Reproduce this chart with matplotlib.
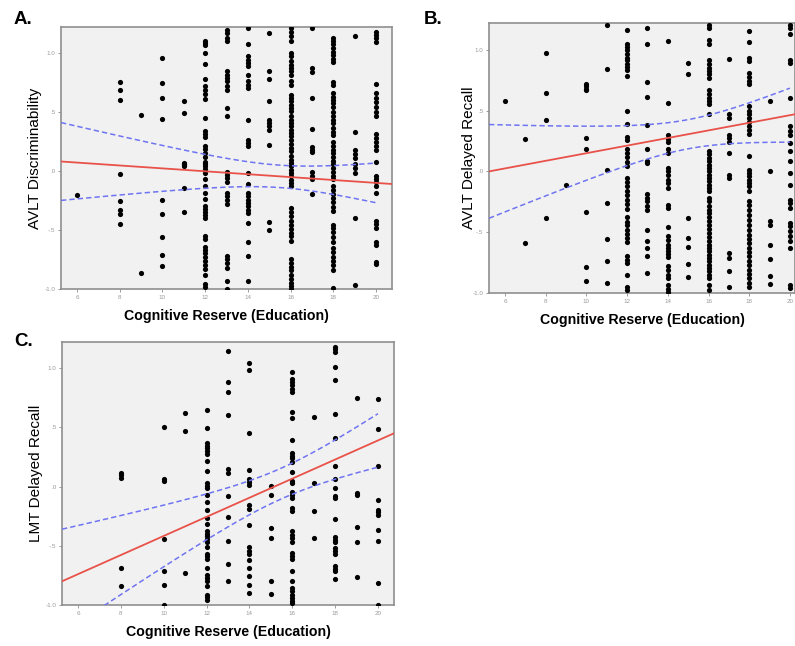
import numpy as np
import matplotlib
matplotlib.use("Agg")
import matplotlib.pyplot as plt

plt.rcParams['font.family'] = ['Liberation Sans', 'DejaVu Sans']

# education years -> standardized scores
disc_a = {
    6: [-0.20],
    8: [0.754, 0.686, 0.60, -0.025, -0.254, -0.328, -0.364, -0.446],
    9: [0.477, -0.862],
    10: [0.96, 0.746, 0.616, 0.44, -0.249, -0.364, -0.556, -0.709, -0.808],
    11: [0.59, 0.49, 0.07, 0.06, 0.05, 0.04, -0.147, -0.35],
    12: [1.10, 1.085, 1.07, 1.0, 0.907, 0.78, 0.723, 0.684, 0.655, 0.61, 0.45,
         0.336, 0.31, 0.29, 0.21, 0.19, 0.15, 0.12, 0.08, 0.06, 0.04, 0.017,
         -0.017, -0.07, -0.13, -0.186, -0.24, -0.30, -0.32, -0.35, -0.37, -0.40,
         -0.55, -0.58, -0.64, -0.667, -0.695, -0.73, -0.766, -0.80, -0.83, -0.88,
         -0.96, -0.98],
    13: [1.198, 1.17, 1.127, 1.099, 0.845, 0.816, 0.788, 0.76, 0.718, 0.689,
         0.534, 0.469, -0.011, -0.031, -0.06, -0.096, -0.186, -0.215, -0.243,
         -0.277, -0.717, -0.746, -0.78, -0.822, -0.93, -1.0],
    14: [1.21, 1.076, 0.972, 0.944, 0.915, 0.887, 0.816, 0.76, 0.73, 0.70, 0.435,
         0.266, 0.237, 0.21, -0.02, -0.107, -0.186, -0.215, -0.243, -0.27, -0.30,
         -0.33, -0.356, -0.44, -0.605, -0.723, -0.935],
    15: [1.17, 0.845, 0.78, 0.59, 0.43, 0.41, 0.38, 0.345, 0.218, -0.43, -0.497],
    16: [1.21, 1.175, 1.147, 1.099, 1.0, 0.972, 0.929, 0.901, 0.873, 0.845, 0.816,
         0.76, 0.732, 0.647, 0.619, 0.59, 0.562, 0.534, 0.506, 0.463, 0.435, 0.407,
         0.379, 0.35, 0.322, 0.294, 0.26, 0.232, 0.195, 0.167, 0.124, 0.096, 0.068,
         0.04, 0.011, -0.017, -0.045, -0.073, -0.102, -0.13, -0.314, -0.35, -0.384,
         -0.427, -0.455, -0.492, -0.525, -0.554, -0.596, -0.746, -0.78, -0.814,
         -0.842, -0.879, -0.915, -0.949, -0.977, -1.0],
    17: [1.215, 0.87, 0.842, 0.62, 0.356, 0.206, 0.178, 0.158, -0.011, -0.04,
         -0.068, -0.198],
    18: [1.13, 1.10, 1.073, 1.04, 1.011, 0.983, 0.949, 0.927, 0.757, 0.729, 0.658,
         0.63, 0.602, 0.573, 0.545, 0.503, 0.469, 0.432, 0.404, 0.367, 0.333, 0.305,
         0.249, 0.215, 0.178, 0.15, 0.121, 0.085, 0.056, 0.023, -0.011, -0.04,
         -0.068, -0.124, -0.161, -0.198, -0.232, -0.26, -0.302, -0.339, -0.458,
         -0.486, -0.52, -0.556, -0.599, -0.655, -0.689, -0.726, -0.763, -0.797,
         -0.839, -0.994],
    19: [1.147, 0.333, 0.178, 0.141, 0.107, 0.056, 0.023, -0.02, -0.401, -0.966],
    20: [1.175, 1.153, 1.13, 1.096, 0.734, 0.658, 0.62, 0.582, 0.545, 0.503, 0.469,
         0.311, 0.277, 0.243, 0.215, 0.178, 0.079, -0.042, -0.068, -0.096, -0.124,
         -0.189, -0.424, -0.452, -0.486, -0.599, -0.627, -0.768, -0.791],
}

recall_b = {
    6: [0.578],
    7: [0.27, -0.591],
    8: [0.973, 0.646, 0.424, -0.385],
    9: [-0.114],
    10: [0.72, 0.70, 0.68, 0.665, 0.276, 0.18, -0.336, -0.789, -0.904],
    11: [1.20, 0.844, 0.015, -0.262, -0.553, -0.734, -0.918],
    12: [1.159, 1.044, 1.022, 0.997, 0.962, 0.934, 0.912, 0.885, 0.857, 0.83, 0.783,
         0.50, 0.39, 0.281, 0.262, 0.18, 0.152, 0.117, 0.078, 0.043, -0.053, -0.086,
         -0.122, -0.158, -0.191, -0.232, -0.268, -0.306, -0.377, -0.416, -0.443,
         -0.479, -0.514, -0.547, -0.58, -0.698, -0.726, -0.753, -0.855, -0.953,
         -0.973],
    13: [1.181, 1.044, 0.737, 0.61, 0.385, 0.18, 0.089, 0.07, -0.19, -0.218, -0.245,
         -0.287, -0.314, -0.479, -0.575, -0.63, -0.698, -0.835],
    14: [1.071, 0.564, 0.303, 0.27, 0.243, 0.18, 0.152, 0.029, 0.001, -0.031, -0.067,
         -0.095, -0.136, -0.273, -0.30, -0.46, -0.534, -0.561, -0.602, -0.63, -0.657,
         -0.679, -0.706, -0.78, -0.808, -0.849, -0.877, -0.931, -0.964, -0.992],
    15: [0.893, 0.797, -0.383, -0.547, -0.624, -0.761, -0.871],
    16: [1.20, 1.18, 1.077, 1.05, 0.912, 0.879, 0.852, 0.824, 0.797, 0.77, 0.665,
         0.638, 0.605, 0.578, 0.55, 0.468, 0.166, 0.139, 0.111, 0.084, 0.056, 0.029,
         0.001, -0.026, -0.053, -0.081, -0.108, -0.136, -0.163, -0.218, -0.245,
         -0.287, -0.314, -0.342, -0.377, -0.41, -0.438, -0.47, -0.506, -0.542,
         -0.575, -0.602, -0.63, -0.657, -0.684, -0.712, -0.739, -0.767, -0.794,
         -0.822, -0.849, -0.877, -0.931, -0.973],
    17: [0.92, 0.468, 0.44, 0.303, 0.276, 0.243, 0.152, -0.026, -0.053, -0.671,
         -0.712, -0.822, -0.953],
    18: [1.154, 1.066, 0.934, 0.907, 0.811, 0.775, 0.742, 0.715, 0.536, 0.50, 0.468,
         0.44, 0.407, 0.372, 0.344, 0.309, 0.125, 0.015, -0.012, -0.04, -0.067,
         -0.095, -0.122, -0.163, -0.24, -0.278, -0.314, -0.355, -0.396, -0.438,
         -0.479, -0.52, -0.553, -0.588, -0.63, -0.665, -0.698, -0.734, -0.772,
         -0.808, -0.844, -0.877, -0.918, -0.953],
    19: [0.578, 0.007, -0.405, -0.438, -0.602, -0.717, -0.863, -0.926],
    20: [1.20, 1.18, 1.126, 0.912, 0.893, 0.605, 0.372, 0.331, 0.303, 0.235, 0.166,
         0.084, -0.012, -0.108, -0.232, -0.26, -0.30, -0.424, -0.451, -0.492, -0.534,
         -0.569, -0.63, -0.931, -0.959],
}

lmt_c = {
    8: [0.118, 0.098, 0.076, -0.688, -0.843],
    10: [0.506, 0.065, 0.048, -0.444, -0.716, -0.834, -1.0],
    11: [0.618, 0.469, -0.73],
    12: [0.646, 0.497, 0.365, 0.346, 0.323, 0.30, 0.272, 0.216, 0.132, 0.028, 0.008,
         -0.014, -0.07, -0.132, -0.20, -0.267, -0.317, -0.379, -0.402, -0.421,
         -0.441, -0.469, -0.514, -0.57, -0.59, -0.61, -0.688, -0.75, -0.772, -0.795,
         -0.843, -0.913, -0.935, -0.955],
    13: [1.143, 0.885, 0.801, 0.604, 0.149, 0.112, -0.084, -0.253, -0.458, -0.654,
         -0.795],
    14: [1.039, 0.983, 0.449, 0.14, 0.065, 0.037, 0.014, -0.154, -0.188, -0.323,
         -0.514, -0.542, -0.57, -0.618, -0.688, -0.758, -0.834, -0.899],
    15: [0.008, -0.07, -0.351, -0.435, -0.795, -0.907],
    16: [0.963, 0.907, 0.885, 0.857, 0.823, 0.801, 0.626, 0.581, 0.393, 0.281, 0.261,
         0.239, 0.211, 0.126, 0.048, 0.028, -0.042, -0.07, -0.098, -0.183, -0.205,
         -0.374, -0.407, -0.435, -0.469, -0.562, -0.59, -0.61, -0.711, -0.795,
         -0.857, -0.885, -0.919, -0.941, -0.963, -0.983],
    17: [0.59, 0.028, -0.205, -0.435],
    18: [1.18, 1.16, 1.138, 1.011, 0.899, 0.61, 0.413, 0.177, 0.065, -0.014, -0.084,
         -0.098, -0.272, -0.43, -0.449, -0.469, -0.52, -0.542, -0.57, -0.674,
         -0.694, -0.716, -0.778],
    19: [0.75, -0.056, -0.07, -0.345, -0.469, -0.767],
    20: [0.739, 0.486, 0.177, -0.112, -0.197, -0.216, -0.239, -0.365, -0.463,
         -0.815, -1.0],
}

# fit line (intercept, slope) and 95% CI band (centre x, min half-width, spread)
fit_a, ci_a = (0.145, -0.0123), (15.5, 0.095, 0.00095)
fit_b, ci_b = (-0.163, 0.03125), (15.0, 0.12, 0.0014)
fit_c, ci_c = (-1.223, 0.0806), (15.5, 0.13, 0.00168)

x_ticks = [6, 8, 10, 12, 14, 16, 18, 20]
y_ticks = [-1.0, -0.5, 0.0, 0.5, 1.0]
y_tick_labels = ['-1.0', '-.5', '.0', '.5', '1.0']
x_title = 'Cognitive Reserve (Education)'

fig = plt.figure(figsize=(7.95, 6.46), dpi=100)
fig.patch.set_facecolor('white')


def panel(rect, cols, fit, ci, xlim, ylabel, ypad, letter, letter_xy):
    ax = fig.add_axes(rect)
    ax.set_facecolor('#f1f1f1')
    for x, ys in cols.items():
        ax.scatter([x] * len(ys), ys, s=14, color='black', linewidths=0, zorder=3)

    xs = np.linspace(xlim[0], xlim[1], 100)
    b0, b1 = fit
    ax.plot(xs, b0 + b1 * xs, color='#e8524a', lw=1.3, zorder=4)

    xc = np.linspace(xlim[0], 20, 100)
    xm, w0, k = ci
    half = np.sqrt(w0 ** 2 + k * (xc - xm) ** 2)
    yc = b0 + b1 * xc
    for sign in (1, -1):
        ax.plot(xc, yc + sign * half, color='#6f74f2', lw=1.1, ls=(0, (3.5, 2)), zorder=4)

    ax.set_xlim(*xlim)
    ax.set_ylim(-1.0, 1.22)
    ax.set_xticks(x_ticks)
    ax.set_xticklabels([str(t) for t in x_ticks])
    ax.set_yticks(y_ticks)
    ax.set_yticklabels(y_tick_labels)
    ax.tick_params(length=2.5, width=0.6, color='#8a8a8a', labelsize=4.5,
                   labelcolor='#9a9a9a', pad=1.5)
    for sp in ax.spines.values():
        sp.set_color('#8f8f8f')
        sp.set_linewidth(1.2)
    ax.set_xlabel(x_title, fontsize=10.2, fontweight='bold', labelpad=7)
    ax.set_ylabel(ylabel, fontsize=11, labelpad=ypad)
    fig.text(letter_xy[0] / 795, 1 - letter_xy[1] / 646, letter,
             fontsize=13.5, fontweight='bold', ha='left', va='center')
    return ax


panel([61 / 795, 1 - 289 / 646, 331 / 795, 262 / 646], disc_a, fit_a, ci_a,
      (5.25, 20.75), 'AVLT Discriminability', 1.5, 'A.', (14, 20))
panel([489 / 795, 1 - 293 / 646, 306 / 795, 270 / 646], recall_b, fit_b, ci_b,
      (5.21, 20.25), 'AVLT Delayed Recall', -2.5, 'B.', (424, 19))
panel([62 / 795, 1 - 605 / 646, 332 / 795, 263 / 646], lmt_c, fit_c, ci_c,
      (5.25, 20.75), 'LMT Delayed Recall', 1.5, 'C.', (14, 342))

fig.savefig('out.png', dpi=100, facecolor='white')
